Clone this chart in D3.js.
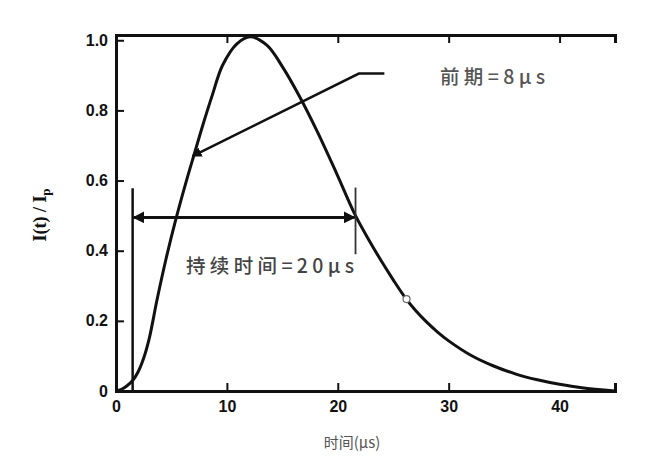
<!DOCTYPE html>
<html>
<head>
<meta charset="utf-8">
<script src="https://cdn.jsdelivr.net/npm/d3@7"></script>
<style>
  html, body { margin: 0; padding: 0; background: #fff; }
  svg { display: block; }
</style>
</head>
<body>
<svg id="chart" width="665" height="473"></svg>
<script>
// ---- data ----
const timeUs = [0, 0.5, 1, 1.5, 2, 2.5, 3, 3.7, 4.5, 5.4, 6.4, 7.1, 7.8, 8.7, 9.6, 10.9, 12.1, 13.6, 15.0, 16.6, 18.1, 19.9, 21.6, 23, 24, 25, 26, 27, 28, 29, 30, 32, 34, 36, 38, 40, 42, 45];
const currentRatio = [0, 0.005, 0.015, 0.03, 0.055, 0.094, 0.15, 0.26, 0.375, 0.49, 0.605, 0.68, 0.755, 0.845, 0.928, 0.99, 1.01, 0.986, 0.925, 0.837, 0.743, 0.62, 0.5, 0.42, 0.367, 0.317, 0.27, 0.23, 0.197, 0.168, 0.143, 0.102, 0.072, 0.049, 0.032, 0.019, 0.009, 0];
const xTicks = [0, 10, 20, 30, 40];
const yTicks = [0, 0.2, 0.4, 0.6, 0.8, 1.0];
const yTickLabels = ["0", "0.2", "0.4", "0.6", "0.8", "1.0"];
const durationStart = 1.5;     // µs
const durationEnd = 21.6;      // µs
const durationLevel = 0.495;
const markerPoint = [26.2, 0.262];
const frontArrow = [[24.2, 0.905], [21.9, 0.905], [6.9, 0.67]];
const xTitle = "时间(μs)";
const frontLabel = "前期=8μs";
const durationLabel = "持续时间=20μs";

// ---- scales ----
const svg = d3.select("#chart");
const x = d3.scaleLinear().domain([0, 45]).range([116, 615]);
const y = d3.scaleLinear().domain([0, 1.015]).range([391, 35]);

const ink = "#111";

// arrow marker
const defs = svg.append("defs");
defs.append("marker").attr("id", "ah").attr("viewBox", "0 0 10 10")
  .attr("refX", 9).attr("refY", 5).attr("markerWidth", 4).attr("markerHeight", 4)
  .attr("orient", "auto-start-reverse").attr("markerUnits", "strokeWidth")
  .append("path").attr("d", "M0,0 L10,5 L0,10 z").attr("fill", ink);

// ---- axes ----
const xAxis = d3.axisBottom(x).tickValues(xTicks).tickSize(-8).tickPadding(10)
  .tickFormat(d3.format("d"));
const gx = svg.append("g").attr("transform", `translate(0,${y(0)})`).call(xAxis);
gx.select(".domain").attr("stroke", ink).attr("stroke-width", 3);
gx.selectAll(".tick line").attr("stroke", ink).attr("stroke-width", 2)
  .attr("display", d => d === 0 || d === 40 ? "none" : null);
gx.selectAll(".tick text").attr("font-family", "Liberation Sans, Arial, sans-serif")
  .attr("font-weight", "bold").attr("font-size", 16).attr("fill", ink)
  .attr("dy", "0.71em");

const yAxis = d3.axisLeft(y).tickValues(yTicks).tickSize(-8).tickPadding(8)
  .tickFormat((d, i) => yTickLabels[i]);
const gy = svg.append("g").attr("transform", `translate(${x(0)},0)`).call(yAxis);
gy.select(".domain").attr("stroke", ink).attr("stroke-width", 3);
gy.selectAll(".tick line").attr("stroke", ink).attr("stroke-width", 2)
  .attr("display", d => d === 0 ? "none" : null);
gy.selectAll(".tick text").attr("font-family", "Liberation Sans, Arial, sans-serif")
  .attr("font-weight", "bold").attr("font-size", 16).attr("fill", ink);

// top frame with downward ticks
const topAxis = d3.axisTop(x).tickValues(xTicks.filter(d => d > 0)).tickSize(-8).tickFormat("");
const gt = svg.append("g").attr("transform", `translate(0,${y(1.015)})`).call(topAxis);
gt.select(".domain").attr("stroke", ink).attr("stroke-width", 3);
gt.selectAll(".tick line").attr("stroke", ink).attr("stroke-width", 2);

// ---- axis titles ----
svg.append("text").attr("x", 352).attr("y", 443).attr("dy", "0.35em")
  .attr("text-anchor", "middle").attr("font-family", "Noto Sans CJK SC, sans-serif")
  .attr("font-size", 15).attr("fill", "#555").text(xTitle);

const yt = svg.append("text").attr("transform", "translate(40,215) rotate(-90)")
  .attr("text-anchor", "middle").attr("dy", "0.35em")
  .attr("font-family", "Liberation Serif, Times New Roman, serif")
  .attr("font-weight", "bold").attr("font-size", 18).attr("fill", ink);
yt.append("tspan").text("I(t) / I");
yt.append("tspan").attr("font-size", 13).attr("dy", "0.3em").text("p");

// ---- curve ----
const pts = timeUs.map((t, i) => [t, currentRatio[i]]);
svg.append("path").datum(pts)
  .attr("fill", "none").attr("stroke", ink).attr("stroke-width", 3)
  .attr("d", d3.line().x(d => x(d[0])).y(d => y(d[1])).curve(d3.curveCatmullRom.alpha(0.5)));

// marker circle
svg.append("circle").attr("cx", x(markerPoint[0])).attr("cy", y(markerPoint[1]))
  .attr("r", 3.5).attr("fill", "#fff").attr("stroke", "#666").attr("stroke-width", 1.2);

// ---- duration annotation ----
svg.append("line").attr("x1", x(durationStart)).attr("x2", x(durationStart))
  .attr("y1", y(0)).attr("y2", y(0.578)).attr("stroke", ink).attr("stroke-width", 2.5);
svg.append("line").attr("x1", x(durationEnd)).attr("x2", x(durationEnd))
  .attr("y1", y(0.39)).attr("y2", y(0.58)).attr("stroke", "#333").attr("stroke-width", 1.8);
svg.append("line").attr("x1", x(durationStart) + 1).attr("x2", x(durationEnd) - 1)
  .attr("y1", y(durationLevel)).attr("y2", y(durationLevel))
  .attr("stroke", ink).attr("stroke-width", 3)
  .attr("marker-start", "url(#ah)").attr("marker-end", "url(#ah)");

svg.append("text").attr("x", 186).attr("y", 266).attr("dy", "0.35em")
  .attr("font-family", "Noto Sans CJK SC, sans-serif").attr("font-size", 19.5)
  .attr("font-weight", 500)
  .attr("fill", "#444").attr("textLength", 168).attr("lengthAdjust", "spacing")
  .text(durationLabel);

// ---- front-time annotation ----
svg.append("path").datum(frontArrow)
  .attr("fill", "none").attr("stroke", ink).attr("stroke-width", 2.5)
  .attr("marker-end", "url(#ah)")
  .attr("d", d3.line().x(d => x(d[0])).y(d => y(d[1])));

svg.append("text").attr("x", 440).attr("y", 77).attr("dy", "0.35em")
  .attr("font-family", "Noto Sans CJK SC, sans-serif").attr("font-size", 19.5)
  .attr("font-weight", 500)
  .attr("fill", "#555").attr("textLength", 105).attr("lengthAdjust", "spacing")
  .text(frontLabel);
</script>
</body>
</html>
